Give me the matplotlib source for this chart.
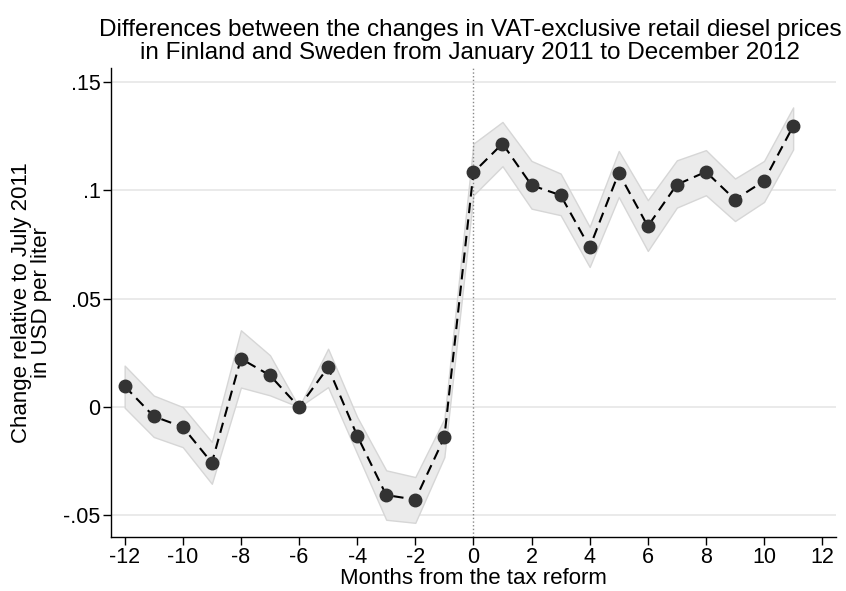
import numpy as np
import matplotlib
matplotlib.use("Agg")
import matplotlib.pyplot as plt

plt.rcParams['font.family'] = ['Liberation Sans', 'DejaVu Sans']

# event-time estimates with confidence bands
months = list(range(-12, 12))
coef = [0.0096, -0.0043, -0.0092, -0.0257, 0.0223, 0.0146, 0.0, 0.0183,
        -0.0132, -0.0406, -0.0427, -0.0140,
        0.1082, 0.1215, 0.1023, 0.0977, 0.0736, 0.1080, 0.0834, 0.1026,
        0.1085, 0.0957, 0.1043, 0.1295]
upper = [0.0191, 0.0053, 0.0000, -0.0161, 0.0354, 0.0239, 0.0, 0.0269,
         -0.0046, -0.0292, -0.0323, -0.0054,
         0.1215, 0.1315, 0.1135, 0.1077, 0.0831, 0.1181, 0.0954, 0.1138,
         0.1185, 0.1054, 0.1135, 0.1382]
lower = [-0.0003, -0.0138, -0.0185, -0.0354, 0.0090, 0.0054, 0.0, 0.0092,
         -0.0215, -0.0520, -0.0534, -0.0231,
         0.0977, 0.1111, 0.0915, 0.0885, 0.0646, 0.0969, 0.0720, 0.0920,
         0.0977, 0.0858, 0.0946, 0.1188]

yticks = [-0.05, 0, 0.05, 0.1, 0.15]
ytick_labels = ['-.05', '0', '.05', '.1', '.15']
xticks = list(range(-12, 13, 2))

fig = plt.figure(figsize=(8.46, 5.91), dpi=100)
ax = fig.add_axes([0.1312, 0.0919, 0.8568, 0.7931])

ax.fill_between(months, lower, upper, facecolor='#ebebeb', edgecolor='#d6d6d6',
                linewidth=1.0, zorder=1)
ax.plot(months, coef, color='black', linestyle=(0, (5, 3)), linewidth=1.5, zorder=3)
ax.plot(months, coef, 'o', color='#333333', markersize=9, zorder=4)
ax.axvline(0, color='#888888', linestyle=':', linewidth=1.0, zorder=2)

for y in yticks:
    ax.axhline(y, color='#e6e6e6', linewidth=1.2, zorder=0)

ax.set_xlim(-12.47, 12.47)
ax.set_ylim(-0.0598, 0.1564)
ax.set_xticks(xticks)
ax.set_xticklabels([str(t) for t in xticks])
ax.set_yticks(yticks)
ax.set_yticklabels(ytick_labels)
ax.tick_params(direction='out', length=5.5, width=1, labelsize=15.5, pad=2)

for side in ['top', 'right']:
    ax.spines[side].set_visible(False)
for side in ['left', 'bottom']:
    ax.spines[side].set_linewidth(1.0)

ax.set_xlabel('Months from the tax reform', fontsize=16, labelpad=0)
ax.set_ylabel('Change relative to July 2011\nin USD per liter', fontsize=16,
              linespacing=0.95, labelpad=8)
fig.suptitle('Differences between the changes in VAT-exclusive retail diesel prices\n'
             'in Finland and Sweden from January 2011 to December 2012',
             x=0.556, y=0.968, fontsize=17.5, linespacing=1.05)

fig.savefig('out.png', dpi=100)
